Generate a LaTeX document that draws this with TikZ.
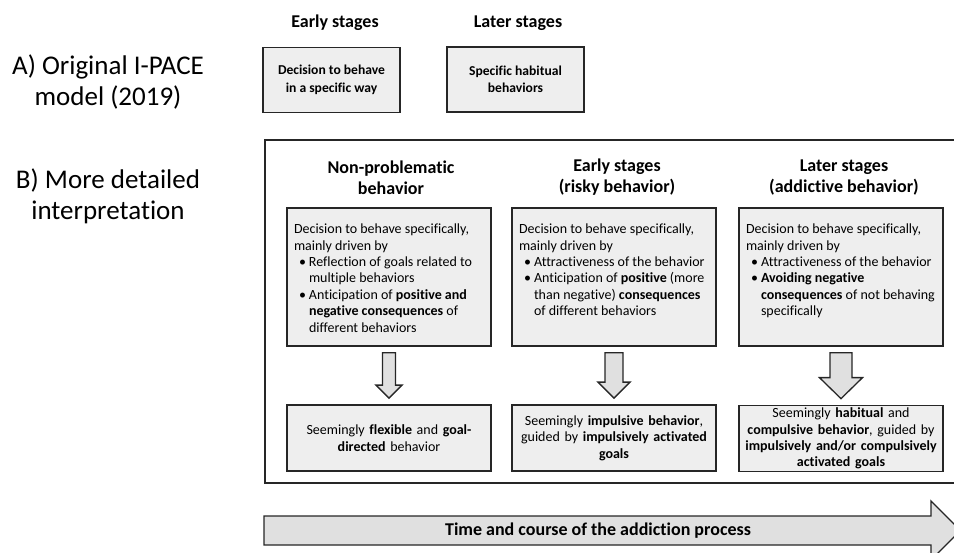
\documentclass[tikz,border=0pt]{standalone}
\usepackage{fontspec}
\setmainfont{Carlito}[Ligatures=NoCommon]
\usetikzlibrary{calc}
\definecolor{boxgray}{HTML}{EEEEEE}
\definecolor{arrgray}{HTML}{E0E0E0}
\definecolor{linegray}{HTML}{262626}
\newcommand{\bul}{\makebox[15pt][l]{\hspace{5pt}\textbullet}}
\newcommand{\ind}{\hspace*{15pt}}
\newcommand{\uptext}[1]{\parbox[c][106pt][t]{190pt}{\raggedright\fontsize{14}{16.4}\selectfont #1}}

\begin{document}
\begin{tikzpicture}[x=1pt,y=-1pt,
    abox/.style={draw=linegray,line width=1.7pt,fill=boxgray,minimum width=137pt,minimum height=65pt,
      align=center,font=\bfseries\fontsize{13.6}{17.5}\selectfont},
    upbox/.style={draw=linegray,line width=1.7pt,fill=boxgray,inner sep=0pt,minimum width=204pt,minimum height=138pt},
    lowbox/.style={draw=linegray,line width=1.7pt,fill=boxgray,inner sep=0pt,minimum width=204pt,minimum height=66pt,
      text width=200pt,align=center,font=\fontsize{14}{16.4}\selectfont},
    stagehead/.style={font=\bfseries\fontsize{18}{21}\selectfont},
    colhead/.style={align=center,font=\bfseries\fontsize{18}{21}\selectfont},
    sidelabel/.style={align=center,font=\fontsize{27}{31}\selectfont},
    blockarrow/.style={draw=linegray,line width=1.3pt,fill=arrgray},
    frame/.style={draw=linegray,line width=1.7pt}]
\useasboundingbox (0,0) rectangle (954,553);
\clip (0,0) rectangle (954,553);

\node[sidelabel] (labA) at (108,82) {A) Original I-PACE\\model (2019)};
\node[sidelabel] (labB) at (108,196) {B) More detailed\\interpretation};

\node[stagehead] (early) at (335,23) {Early stages};
\node[stagehead] (later) at (518,23) {Later stages};
\node[abox] (decide) at (331.5,80) {Decision to behave\\in a specific way};
\node[abox] (habit) at (515.5,79.5) {Specific habitual\\behaviors};

\draw[frame] (265,140) rectangle (1000,483);

\node[colhead] (h1) at (391,177.5) {Non-problematic\\behavior};
\node[colhead] (h2) at (617,177.5) {Early stages\\(risky behavior)};
\node[colhead] (h3) at (844,177.5) {Later stages\\(addictive behavior)};

\node[upbox] (u1) at (389,277) {\uptext{Decision to behave specifically,\\
  mainly driven by\\
  \bul Reflection of goals related to\\
  \ind multiple behaviors\\
  \bul Anticipation of \textbf{positive and}\\
  \ind\textbf{negative consequences} of\\
  \ind different behaviors}};
\node[upbox] (u2) at (614,277) {\uptext{Decision to behave specifically,\\
  mainly driven by\\
  \bul Attractiveness of the behavior\\
  \bul Anticipation of \textbf{positive} (more\\
  \ind than negative) \textbf{consequences}\\
  \ind of different behaviors}};
\node[upbox] (u3) at (841,277) {\uptext{Decision to behave specifically,\\
  mainly driven by\\
  \bul Attractiveness of the behavior\\
  \bul \textbf{Avoiding negative}\\
  \ind\textbf{consequences} of not behaving\\
  \ind specifically}};

\node[lowbox] (l1) at (389,438) {Seemingly \textbf{flexible} and \textbf{goal-}\\\textbf{directed} behavior};
\node[lowbox] (l2) at (614,438) {Seemingly \textbf{impulsive behavior},\\guided by \textbf{impulsively activated}\\\textbf{goals}};
\node[lowbox] (l3) at (841,438.5) {Seemingly \textbf{habitual} and\\\textbf{compulsive behavior}, guided by\\\textbf{impulsively and/or compulsively}\\\textbf{activated goals}};

\foreach \i/\sw/\hw/\hl in {1/6.5/13/13, 2/9/16/16, 3/11/21.5/21} {
  \coordinate (a\i) at ($(u\i.south)+(0,6)$);
  \coordinate (b\i) at ($(l\i.north)+(0,-6)$);
  \draw[blockarrow] ($(a\i)+(-\sw,0)$) -- ($(a\i)+(\sw,0)$) -- ($(b\i)+(\sw,-\hl)$) -- ($(b\i)+(\hw,-\hl)$)
    -- (b\i) -- ($(b\i)+(-\hw,-\hl)$) -- ($(b\i)+(-\sw,-\hl)$) -- cycle;
}

\draw[blockarrow] (264,516) -- (931,516) -- (931,501) -- (960.5,530.5) -- (931,560) -- (931,545) -- (264,545) -- cycle;
\node[font=\bfseries\fontsize{18}{21}\selectfont] (course) at (598,530.5) {Time and course of the addiction process};
\end{tikzpicture}
\end{document}
